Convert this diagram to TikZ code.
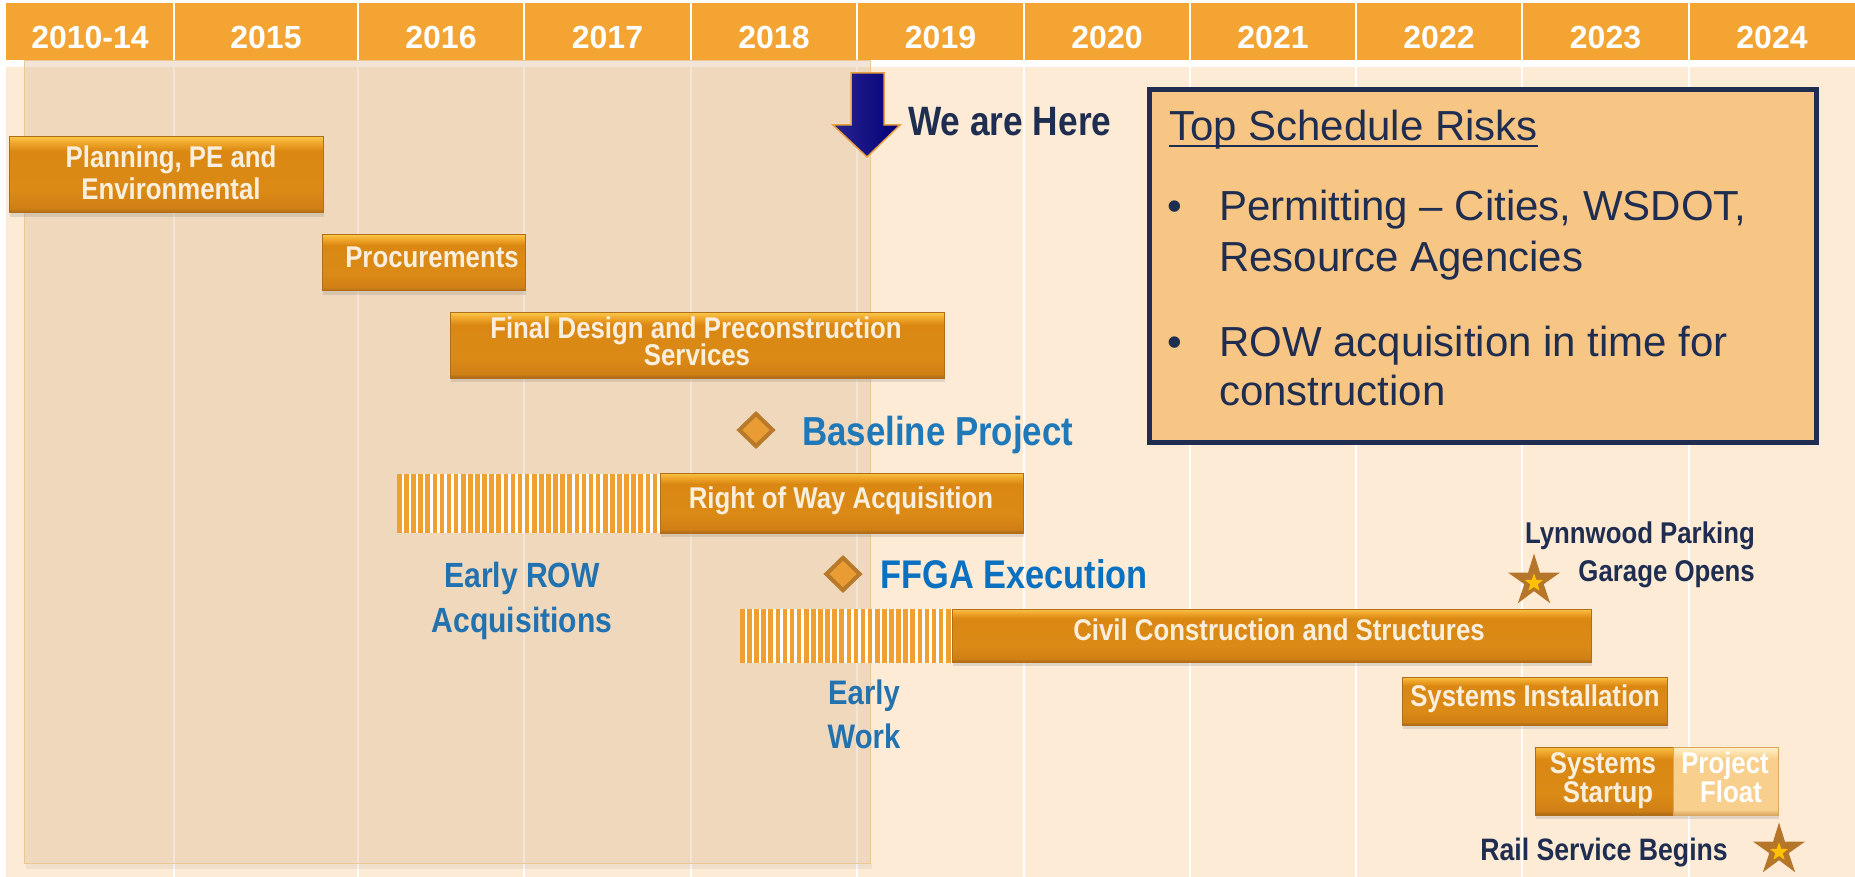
\documentclass[tikz,border=0pt]{standalone}
\usepackage{fontspec}
\setmainfont{Liberation Sans}
\newfontfamily\cond[FakeStretch=0.86]{Liberation Sans}
\usetikzlibrary{shapes.geometric,shadows}
\newcommand\setfs[1]{\fontsize{#1}{#1}\selectfont}
\definecolor{hdr}{HTML}{F3A433}
\definecolor{bodybg}{HTML}{FDEBD6}
\definecolor{pastc}{HTML}{D9B48A}
\definecolor{pastedge}{HTML}{EBC795}
\definecolor{navy}{HTML}{1F2D50}
\definecolor{boxfill}{HTML}{F7C684}
\definecolor{blueA}{HTML}{1F78B8}
\definecolor{blueB}{HTML}{0A70C0}
\definecolor{blueC}{HTML}{2272B0}
\definecolor{stripec}{HTML}{F0A030}
\definecolor{diafill}{HTML}{E89C33}
\definecolor{diaedge}{HTML}{B8792A}
\definecolor{starc}{HTML}{B5762A}
\definecolor{starin}{HTML}{FFC000}
\definecolor{bartext}{HTML}{FAEEDD}
\definecolor{barDark}{HTML}{A9691A}
\definecolor{barLow}{HTML}{CF7F14}
\definecolor{barMid}{HTML}{DB8A17}
\definecolor{barMidB}{HTML}{DA8812}
\definecolor{barHi}{HTML}{EFA52A}
\definecolor{barTop}{HTML}{F8C445}
\definecolor{barEdge}{HTML}{B06D1A}
\definecolor{flDark}{HTML}{D9A860}
\definecolor{flMid}{HTML}{F8CF8C}
\definecolor{flTop}{HTML}{FFF0C8}
\definecolor{arrowL}{HTML}{2B2490}
\definecolor{arrowR}{HTML}{000078}
\definecolor{arrowEdge}{HTML}{E6A040}
\pgfdeclareverticalshading{barshade}{100bp}{color(0bp)=(barDark); color(25bp)=(barDark); color(28bp)=(barLow); color(40bp)=(barMid); color(66bp)=(barMidB); color(71bp)=(barHi); color(75bp)=(barTop); color(100bp)=(barTop)}
\pgfdeclareverticalshading{floatshade}{100bp}{color(0bp)=(flDark); color(25bp)=(flDark); color(29bp)=(flMid); color(66bp)=(flMid); color(75bp)=(flTop); color(100bp)=(flTop)}
\tikzset{
  bar/.style={shade, shading=barshade, draw=barEdge, line width=1, inner sep=0,
    drop shadow={shadow xshift=1pt, shadow yshift=-4pt, opacity=0.22}},
  floatbar/.style={shade, shading=floatshade, draw=flDark, line width=1, inner sep=0,
    drop shadow={shadow xshift=1pt, shadow yshift=-4pt, opacity=0.22}},
  btext/.style={text=bartext, font=\cond\bfseries\setfs{30}, inner sep=0, anchor=base},
  hdrtext/.style={text=white, font=\bfseries\setfs{32}, inner sep=0, anchor=base},
  miles/.style={diamond, fill=diafill, draw=diaedge, line width=4, minimum width=35, minimum height=34, inner sep=0},
  bigstar/.style={star, star points=5, star point ratio=2.7, fill=starc, minimum size=55, inner sep=0},
  smallstar/.style={star, star points=5, star point ratio=2.4, fill=starin, minimum size=19, inner sep=0},
  risk/.style={text=navy, font=\setfs{42}, inner sep=0, anchor=base west},
  navylabel/.style={text=navy, font=\cond\bfseries\setfs{30}, inner sep=0, anchor=base east},
}
\begin{document}
\begin{tikzpicture}[x=1pt,y=-1pt]
\useasboundingbox (0,0) rectangle (1855,877);
\fill[white] (0,0) rectangle (1855,877);
% body
\fill[bodybg] (6,67) rectangle (1855,877);
\foreach \x in {174,358,524,691,857,1024,1190,1356,1522,1689}
  \draw[white, line width=2] (\x,67) -- (\x,877);
% past region
\fill[black, opacity=0.05] (26,863) rectangle (872,869);
\fill[pastc, fill opacity=0.34, draw=pastedge, line width=1] (24,61) rectangle (870,863);
% header
\fill[hdr] (6,3) rectangle (1855,60);
\foreach \x in {174,358,524,691,857,1024,1190,1356,1522,1689}
  \draw[white, line width=2.5] (\x,3) -- (\x,60);
\node[hdrtext] (h1) at (90,49) {2010-14};
\node[hdrtext] (h2) at (266,49) {2015};
\node[hdrtext] (h3) at (441,49) {2016};
\node[hdrtext] (h4) at (607.5,49) {2017};
\node[hdrtext] (h5) at (774,49) {2018};
\node[hdrtext] (h6) at (940.5,49) {2019};
\node[hdrtext] (h7) at (1107,49) {2020};
\node[hdrtext] (h8) at (1273,49) {2021};
\node[hdrtext] (h9) at (1439,49) {2022};
\node[hdrtext] (h10) at (1605.5,49) {2023};
\node[hdrtext] (h11) at (1772,49) {2024};
% we are here arrow
\shade[left color=arrowL, right color=arrowR, draw=arrowEdge, line width=1.5]
  (851,73) -- (884,73) -- (884,125) -- (900,125) -- (867,157) -- (833,125) -- (851,125) -- cycle;
\node[text=navy, font=\cond\bfseries\setfs{41}, inner sep=0, anchor=base west] (we) at (908,136) {We are Here};
% risks box
\node[draw=navy, line width=5, fill=boxfill, minimum width=667, minimum height=353, inner sep=0] (riskbox) at (1483,266) {};
\node[risk] (rtitle) at (1169,141) {Top Schedule Risks};
\draw[navy, line width=2] ([yshift=-5pt]rtitle.base west) -- ([yshift=-5pt]rtitle.base east);
\node[risk] (b1) at (1167,221) {•};
\node[risk] (r1) at (1219,221) {Permitting – Cities, WSDOT,};
\node[risk] (r2) at (1219,272) {Resource Agencies};
\node[risk] (b2) at (1167,356) {•};
\node[risk] (r3) at (1219,356) {ROW acquisition in time for};
\node[risk] (r4) at (1219,405) {construction};
% stripes
\fill[white] (397,474) rectangle (660,533);
\foreach \i in {0,...,36} \fill[stripec] ({397+\i*7.1},474) rectangle ++(4.6,59);
\fill[white] (740,609) rectangle (953,663);
\foreach \i in {0,...,29} \fill[stripec] ({740+\i*7.1},609) rectangle ++(4.6,54);
% bars
\node[bar, minimum width=314, minimum height=76] (plan) at (166,175) {};
\node[btext] (plan1) at (171,168) {Planning, PE and};
\node[btext] (plan2) at (171,200) {Environmental};
\node[bar, minimum width=203, minimum height=56] (proc) at (423.5,263) {};
\node[btext] (proct) at (432,268) {Procurements};
\node[bar, minimum width=494, minimum height=65] (fd) at (697,345.5) {};
\node[btext] (fd1) at (696,338) {Final Design and Preconstruction};
\node[btext] (fd2) at (697,365) {Services};
\node[bar, minimum width=363, minimum height=60] (row) at (841.5,503) {};
\node[btext] (rowt) at (841,508) {Right of Way Acquisition};
\node[bar, minimum width=639, minimum height=53] (civil) at (1271.5,635.5) {};
\node[btext] (civilt) at (1279,640) {Civil Construction and Structures};
\node[bar, minimum width=265, minimum height=48] (sysi) at (1534.5,701) {};
\node[btext] (sysit) at (1535,706) {Systems Installation};
\node[bar, minimum width=138, minimum height=68] (start) at (1604,781) {};
\node[btext] (start1) at (1603,773) {Systems};
\node[btext] (start2) at (1608,802) {Startup};
\node[floatbar, minimum width=105, minimum height=68] (float) at (1725.5,781) {};
\node[btext, text=white] (float1) at (1725,773) {Project};
\node[btext, text=white] (float2) at (1731,802) {Float};
% milestones
\node[miles] (base) at (756,430) {};
\node[text=blueA, font=\cond\bfseries\setfs{40.5}, inner sep=0, anchor=base west] (baset) at (802,445) {Baseline Project};
\node[miles] (ffga) at (843,574) {};
\node[text=blueB, font=\cond\bfseries\setfs{40}, inner sep=0, anchor=base west] (ffgat) at (880,588) {FFGA Execution};
\node[text=blueC, font=\cond\bfseries\setfs{35}, inner sep=0, anchor=base] (erow1) at (522,587) {Early ROW};
\node[text=blueC, font=\cond\bfseries\setfs{35}, inner sep=0, anchor=base] (erow2) at (522,632) {Acquisitions};
\node[text=blueC, font=\cond\bfseries\setfs{34}, inner sep=0, anchor=base] (ew1) at (864,704) {Early};
\node[text=blueC, font=\cond\bfseries\setfs{34}, inner sep=0, anchor=base] (ew2) at (864,748) {Work};
% stars
\node[bigstar] (lstar) at (1534,581) {};
\node[smallstar] (lstari) at (1534,583) {};
\node[navylabel] (lyn1) at (1755,543) {Lynnwood Parking};
\node[navylabel] (lyn2) at (1755,581) {Garage Opens};
\node[bigstar] (rstar) at (1779,850) {};
\node[smallstar] (rstari) at (1779,852) {};
\node[navylabel, font=\cond\bfseries\setfs{31}] (rail) at (1728,860) {Rail Service Begins};
\end{tikzpicture}
\end{document}
